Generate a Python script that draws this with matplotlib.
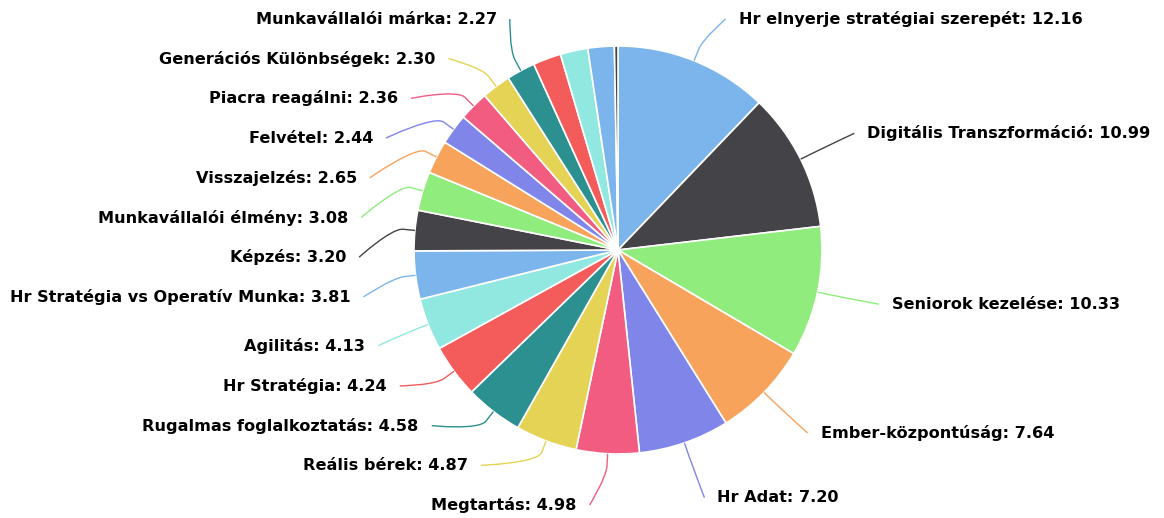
import numpy as np
import matplotlib
matplotlib.use("Agg")
import matplotlib.pyplot as plt
from matplotlib.path import Path
from matplotlib.patches import PathPatch

# ---- data ----
categories = [
    "Hr elnyerje stratégiai szerepét", "Digitális Transzformáció", "Seniorok kezelése",
    "Ember-központúság", "Hr Adat", "Megtartás", "Reális bérek", "Rugalmas foglalkoztatás",
    "Hr Stratégia", "Agilitás", "Hr Stratégia vs Operatív Munka", "Képzés",
    "Munkavállalói élmény", "Visszajelzés", "Felvétel", "Piacra reagálni",
    "Generációs Különbségek", "Munkavállalói márka", "", "", "", "",
]
values = [12.16, 10.99, 10.33, 7.64, 7.20, 4.98, 4.87, 4.58, 4.24, 4.13, 3.81, 3.20,
          3.08, 2.65, 2.44, 2.36, 2.30, 2.27, 2.22, 2.18, 2.09, 0.28]
palette = ["#7cb5ec", "#434348", "#90ed7d", "#f7a35c", "#8085e9",
           "#f15c80", "#e4d354", "#2b908f", "#f45b5b", "#91e8e1"]

W, H = 1164, 518
fig = plt.figure(figsize=(W / 100, H / 100), dpi=100)
ax = fig.add_axes([0, 0, 1, 1])

cx, cy_px, r = 618, 250, 204
cy = H - cy_px
colors = [palette[i % len(palette)] for i in range(len(values))]

ax.pie(values, colors=colors, startangle=90, counterclock=False,
       center=(cx, cy), radius=r,
       wedgeprops=dict(edgecolor="white", linewidth=1.2))
ax.set_xlim(0, W)
ax.set_ylim(0, H)
ax.set_aspect("equal")
ax.axis("off")

# ---- label layout (Highcharts-like) ----
total = sum(values)
cum = np.cumsum([0] + values[:-1])
mids = [(c + v / 2) / total * 2 * np.pi for c, v in zip(cum, values)]  # angle from top, clockwise
b_ell = 262
size = 39.7
lo, hi = 19, 505


def place(c):
    n = len(c)
    p0 = np.mean([c[k][1] - k * size for k in range(n)])
    return min(max(p0, lo), hi - (n - 1) * size)


def distribute(items):
    items = sorted(items, key=lambda it: it[1])
    clusters = []
    for it in items:
        clusters.append([it])
        while len(clusters) > 1:
            cur, prev = clusters[-1], clusters[-2]
            if place(prev) + len(prev) * size > place(cur):
                clusters[-2] = prev + cur
                clusters.pop()
            else:
                break
    out = {}
    for c in clusters:
        p0 = place(c)
        for k, it in enumerate(c):
            out[it[0]] = p0 + k * size
    return out


sides = {"right": [], "left": []}
for i, th in enumerate(mids):
    y_nat = cy_px - b_ell * np.cos(th)
    side = "right" if np.sin(th) >= 0 else "left"
    sides[side].append((i, y_nat))

cap = int((hi - lo) // size) + 1
for side, items in sides.items():
    if len(items) > cap:
        items = sorted(items, key=lambda it: -values[it[0]])[:cap]
    ypos = distribute(items)
    for i, y in ypos.items():
        th = mids[i]
        sign = 1 if side == "right" else -1
        if side == "right":
            a = 280
            bx = 256 if y < cy_px else 265
        else:
            a = 272
            bx = 258
        s = np.clip((y - cy_px) / bx, -1, 1)
        dx = a * np.sqrt(1 - s * s)
        tx = cx + sign * dx
        ty = H - y
        ax.text(tx, ty, f"{categories[i]}: {values[i]:.2f}",
                ha="left" if side == "right" else "right", va="center",
                fontsize=11.6, fontweight="bold", color="#000000",
                family="DejaVu Sans")
        # soft connector
        sx, sy = tx - sign * 13, ty
        touch = np.array([cx + r * np.sin(th), cy + r * np.cos(th)])
        brk = np.array([cx + (r + 12) * np.sin(th), cy + (r + 12) * np.cos(th)])
        c2 = 2 * brk - touch
        verts = [(sx, sy), (sx, sy), tuple(c2), tuple(brk), tuple(touch)]
        codes = [Path.MOVETO, Path.CURVE4, Path.CURVE4, Path.CURVE4, Path.LINETO]
        ax.add_patch(PathPatch(Path(verts, codes), fill=False,
                               edgecolor=colors[i], linewidth=1.0))

fig.savefig("out.png", dpi=100)
